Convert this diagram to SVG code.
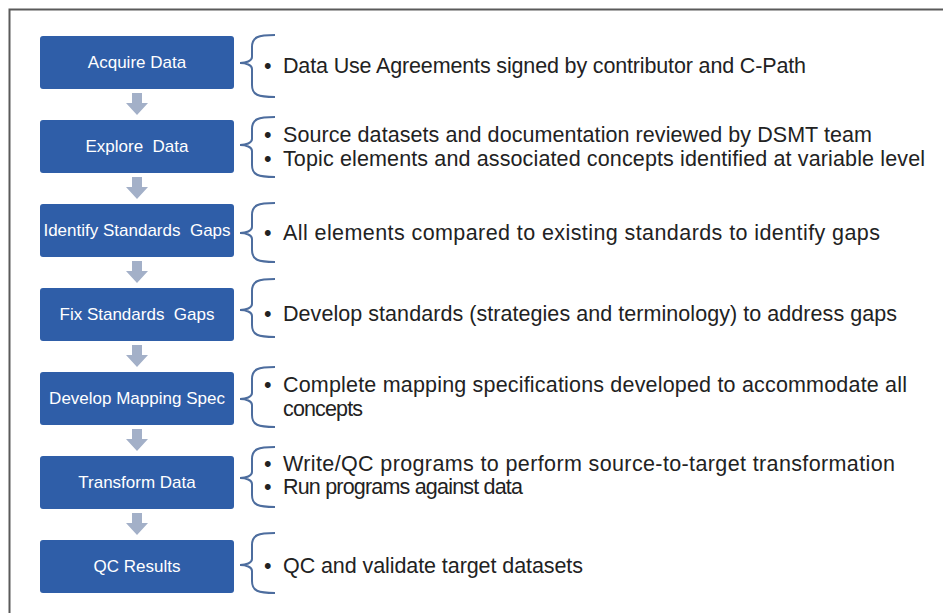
<svg xmlns="http://www.w3.org/2000/svg" width="943" height="613" viewBox="0 0 943 613">
<style>
.box{fill:#2f5ea8;}
.lbl{fill:#ffffff;font-family:"Liberation Sans",Arial,sans-serif;font-size:17px;text-anchor:middle;white-space:pre;}
.txt{fill:#222222;font-family:"Liberation Sans",Arial,sans-serif;font-size:21.5px;}
.brace{fill:none;stroke:#4d6d9e;stroke-width:2;}
.arr{fill:#a3b0c8;}
.frame{stroke:#5a5a5a;stroke-width:2;fill:none;}
</style>
<defs>
<path id="arrow" class="arr" d="M-5 0 H5 V10 H11 L0 22 L-11 10 H-5 Z"/>
</defs>
<rect width="943" height="613" fill="#ffffff"/>
<path class="frame" d="M9.5 613 V9.5 H943"/>

<g id="connectors">
<use href="#arrow" x="137" y="93"/>
<use href="#arrow" x="137" y="177"/>
<use href="#arrow" x="137" y="261"/>
<use href="#arrow" x="137" y="345"/>
<use href="#arrow" x="137" y="429"/>
<use href="#arrow" x="137" y="513"/>
</g>

<g id="n1">
<rect class="box" x="40" y="36" width="194" height="53" rx="3"/>
<text class="lbl" x="137" y="68">Acquire Data</text>
<path class="brace" d="M275 35 C258 35 252 37 252 47 L252 57 C252 61 246 63 240 63 C246 63 252 65 252 69 L252 85 C252 95 258 97 275 97"/>
<text class="txt" x="264" y="73">•</text>
<text class="txt" x="283" y="73" textLength="523">Data Use Agreements signed by contributor and C-Path</text>
</g>

<g id="n2">
<rect class="box" x="40" y="120" width="194" height="53" rx="3"/>
<text class="lbl" x="137" y="152" xml:space="preserve">Explore  Data</text>
<path class="brace" d="M275 117 C258 117 252 119 252 129 L252 139 C252 143 246 145 240 145 C246 145 252 147 252 151 L252 165 C252 175 258 177 275 177"/>
<text class="txt" x="264" y="142">•</text>
<text class="txt" x="283" y="142" textLength="589">Source datasets and documentation reviewed by DSMT team</text>
<text class="txt" x="264" y="166">•</text>
<text class="txt" x="283" y="166" textLength="642">Topic elements and associated concepts identified at variable level</text>
</g>

<g id="n3">
<rect class="box" x="40" y="204" width="194" height="53" rx="3"/>
<text class="lbl" x="137" y="236" xml:space="preserve">Identify Standards  Gaps</text>
<path class="brace" d="M275 203 C258 203 252 205 252 215 L252 227 C252 231 246 233 240 233 C246 233 252 235 252 239 L252 250 C252 260 258 262 275 262"/>
<text class="txt" x="264" y="240">•</text>
<text class="txt" x="283" y="240" textLength="597">All elements compared to existing standards to identify gaps</text>
</g>

<g id="n4">
<rect class="box" x="40" y="288" width="194" height="53" rx="3"/>
<text class="lbl" x="137" y="320" xml:space="preserve">Fix Standards  Gaps</text>
<path class="brace" d="M275 279 C258 279 252 281 252 291 L252 304 C252 308 246 310 240 310 C246 310 252 312 252 316 L252 325 C252 335 258 337 275 337"/>
<text class="txt" x="264" y="321">•</text>
<text class="txt" x="283" y="321" textLength="614">Develop standards (strategies and terminology) to address gaps</text>
</g>

<g id="n5">
<rect class="box" x="40" y="372" width="194" height="53" rx="3"/>
<text class="lbl" x="137" y="404">Develop Mapping Spec</text>
<path class="brace" d="M275 367 C258 367 252 369 252 379 L252 393 C252 397 246 399 240 399 C246 399 252 401 252 405 L252 415 C252 425 258 427 275 427"/>
<text class="txt" x="264" y="392">•</text>
<text class="txt" x="283" y="392" textLength="624">Complete mapping specifications developed to accommodate all</text>
<text class="txt" x="283" y="416" textLength="80">concepts</text>
</g>

<g id="n6">
<rect class="box" x="40" y="456" width="194" height="53" rx="3"/>
<text class="lbl" x="137" y="488">Transform Data</text>
<path class="brace" d="M275 447 C258 447 252 449 252 459 L252 472 C252 476 246 478 240 478 C246 478 252 480 252 484 L252 495 C252 505 258 507 275 507"/>
<text class="txt" x="264" y="471">•</text>
<text class="txt" x="283" y="471" textLength="612">Write/QC programs to perform source-to-target transformation</text>
<text class="txt" x="264" y="494">•</text>
<text class="txt" x="283" y="494" textLength="240">Run programs against data</text>
</g>

<g id="n7">
<rect class="box" x="40" y="540" width="194" height="53" rx="3"/>
<text class="lbl" x="137" y="572">QC Results</text>
<path class="brace" d="M275 533 C258 533 252 535 252 545 L252 559 C252 563 246 565 240 565 C246 565 252 567 252 571 L252 581 C252 591 258 593 275 593"/>
<text class="txt" x="264" y="573">•</text>
<text class="txt" x="283" y="573" textLength="300">QC and validate target datasets</text>
</g>
</svg>
